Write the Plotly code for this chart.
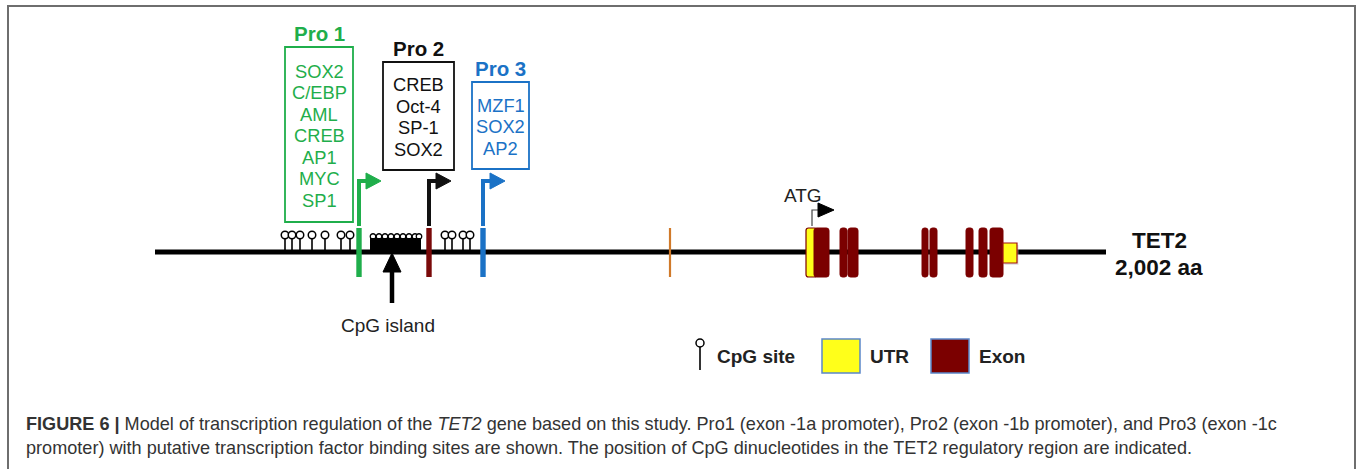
import plotly.graph_objects as go

# ---------------- data (diagram coordinates along the gene) ----------------
gene_start, gene_end = 155, 1106
line_y = 252

promoters = ["Pro 1", "Pro 2", "Pro 3"]
promoter_pos = [359, 429, 483]
promoter_colors = ["#1fae4b", "#111111", "#1b72c6"]
promoter_bar_colors = ["#1fae4b", "#7a0a0a", "#1b72c6"]
promoter_tfs = [
    ["SOX2", "C/EBP", "AML", "CREB", "AP1", "MYC", "SP1"],
    ["CREB", "Oct-4", "SP-1", "SOX2"],
    ["MZF1", "SOX2", "AP2"],
]
box_left = [285, 383, 472]
box_right = [353, 454, 529]
box_top = [47, 62, 82]
box_bottom = [222, 170, 169]

cpg_sites = [285, 292, 300, 312, 325, 341, 350, 445, 452, 463, 470]
island_start, island_end = 370, 421
island_sites = [373, 379, 385, 391, 397, 403, 409, 415, 419]
island_arrow_x = 392

exon_m1_pos = 670
utr5 = (806, 814)
exon_starts = [814, 840, 848, 922, 930, 966, 979, 990]
exon_ends = [829, 847, 858, 928, 937, 973, 987, 1003]
utr3 = (1003, 1017)
atg_pos = 812

EXON = "#7b0000"
UTR = "#ffff1a"
CAPTION_1 = ("<b>FIGURE 6 |</b> Model of transcription regulation of the <i>TET2</i> gene based on this study. "
             "Pro1 (exon -1a promoter), Pro2 (exon -1b promoter), and Pro3 (exon -1c")
CAPTION_2 = ("promoter) with putative transcription factor binding sites are shown. The position of CpG "
             "dinucleotides in the TET2 regulatory region are indicated.")

FONT = "Arial, Liberation Sans, sans-serif"

fig = go.Figure()
shapes = []
ann = []


def rrect(x0, x1, y0, y1, r, fill, line_color, lw=1):
    r = min(r, (x1 - x0) / 2, (y1 - y0) / 2)
    p = (f"M{x0+r},{y0} L{x1-r},{y0} Q{x1},{y0} {x1},{y0+r} L{x1},{y1-r} Q{x1},{y1} {x1-r},{y1} "
         f"L{x0+r},{y1} Q{x0},{y1} {x0},{y1-r} L{x0},{y0+r} Q{x0},{y0} {x0+r},{y0} Z")
    return dict(type="path", path=p, fillcolor=fill, line=dict(color=line_color, width=lw),
                xref="x", yref="y", layer="above")


# outer frame
shapes.append(dict(type="path", path="M8,470 L8,6 L1355,6 L1355,470",
                   line=dict(color="#6e6e6e", width=2), xref="x", yref="y"))

# main gene line
shapes.append(dict(type="line", x0=gene_start, x1=gene_end, y0=line_y, y1=line_y,
                   line=dict(color="black", width=5), xref="x", yref="y"))

# CpG island block
shapes.append(dict(type="rect", x0=island_start, x1=island_end, y0=238, y1=line_y,
                   fillcolor="black", line=dict(width=0), xref="x", yref="y"))

# promoters
for name, px, col, bcol, tfs, bl, br, bt, bb in zip(promoters, promoter_pos, promoter_colors,
                                                   promoter_bar_colors, promoter_tfs,
                                                   box_left, box_right, box_top, box_bottom):
    shapes.append(dict(type="rect", x0=px - 2.7, x1=px + 2.7, y0=228, y1=277,
                       fillcolor=bcol, line=dict(width=0), xref="x", yref="y", layer="above"))
    top = 181
    shapes.append(dict(type="path", path=f"M{px},226 L{px},{top} L{px+8},{top}",
                       line=dict(color=col, width=4), xref="x", yref="y", layer="above"))
    shapes.append(dict(type="path", path=f"M{px+7},{top-8} L{px+22},{top} L{px+7},{top+8} Z",
                       fillcolor=col, line=dict(color=col, width=1), xref="x", yref="y", layer="above"))
    shapes.append(dict(type="rect", x0=bl, x1=br, y0=bt, y1=bb,
                       line=dict(color=col, width=1.8), xref="x", yref="y"))
    cx = (bl + br) / 2
    ann.append(dict(x=cx, y=bt - 14, text=f"<b>{name}</b>", font=dict(size=20.5, color=col, family=FONT)))
    n = len(tfs)
    step = 21.5
    mid = (bt + bb) / 2
    for i, t in enumerate(tfs):
        ann.append(dict(x=cx, y=mid + (i - (n - 1) / 2) * step + 1, text=t,
                        font=dict(size=18.3, color=col, family=FONT)))

# exon -1 (orange)
shapes.append(dict(type="line", x0=exon_m1_pos, x1=exon_m1_pos, y0=228, y1=277,
                   line=dict(color="#d07a2a", width=2.2), xref="x", yref="y"))

# 5' UTR and exons
shapes.append(rrect(utr5[0], utr5[1] + 3, 228, 277, 2.5, UTR, EXON, 1.2))
for s, e in zip(exon_starts, exon_ends):
    shapes.append(rrect(s, e, 228, 277, 2.5, EXON, EXON, 1))
shapes.append(dict(type="rect", x0=utr3[0] + 1.5, x1=utr3[1] + 1.5, y0=245, y1=265,
                   fillcolor="#c9c9c9", line=dict(width=0), xref="x", yref="y", opacity=0.5))
shapes.append(dict(type="rect", x0=utr3[0], x1=utr3[1], y0=243, y1=263,
                   fillcolor=UTR, line=dict(color="#a01010", width=1.2), xref="x", yref="y", layer="above"))

# ATG small bent arrow
shapes.append(dict(type="path", path=f"M{atg_pos},226 L{atg_pos},210 L{atg_pos+7},210",
                   line=dict(color="#444444", width=1.2), xref="x", yref="y", layer="above"))
shapes.append(dict(type="path", path=f"M{atg_pos+6},203 L{atg_pos+22},210 L{atg_pos+6},217 Z",
                   fillcolor="black", line=dict(color="black", width=1), xref="x", yref="y", layer="above"))
ann.append(dict(x=803, y=195, text="ATG", font=dict(size=19, color="#222222", family=FONT)))

# CpG island arrow
shapes.append(dict(type="line", x0=island_arrow_x, x1=island_arrow_x, y0=303, y1=268,
                   line=dict(color="black", width=4.5), xref="x", yref="y"))
shapes.append(dict(type="path",
                   path=f"M{island_arrow_x-9},272 L{island_arrow_x},253 L{island_arrow_x+9},272 Z",
                   fillcolor="black", line=dict(color="black", width=1), xref="x", yref="y"))
ann.append(dict(x=388, y=325, text="CpG island", font=dict(size=19, color="#222222", family=FONT)))

# TET2 label
ann.append(dict(x=1159, y=240, text="<b>TET2</b>", font=dict(size=22.5, color="#111111", family=FONT)))
ann.append(dict(x=1159, y=267, text="<b>2,002 aa</b>", font=dict(size=22.5, color="#111111", family=FONT)))

# CpG sites (lollipops)
sx, sy = [], []
for c in cpg_sites:
    sx += [c, c, None]
    sy += [line_y, 238.5, None]
fig.add_trace(go.Scatter(x=sx, y=sy, mode="lines", line=dict(color="black", width=1.6),
                         hoverinfo="skip"))
fig.add_trace(go.Scatter(x=cpg_sites, y=[235] * len(cpg_sites), mode="markers",
                         marker=dict(symbol="circle", size=7.5, color="white",
                                     line=dict(color="black", width=1.5)), hoverinfo="skip"))
fig.add_trace(go.Scatter(x=island_sites, y=[236.5] * len(island_sites), mode="markers",
                         marker=dict(symbol="circle", size=5.5, color="white",
                                     line=dict(color="black", width=1.3)), hoverinfo="skip"))

# legend
fig.add_trace(go.Scatter(x=[700, 700], y=[346, 370], mode="lines", line=dict(color="black", width=1.6),
                         hoverinfo="skip"))
fig.add_trace(go.Scatter(x=[700], y=[343], mode="markers",
                         marker=dict(symbol="circle", size=8, color="white",
                                     line=dict(color="black", width=1.5)), hoverinfo="skip"))
ann.append(dict(x=715, y=356, text="<b>CpG site</b>", xanchor="left",
                font=dict(size=19, color="#222222", family=FONT)))
shapes.append(dict(type="rect", x0=822, x1=860, y0=339, y1=373, fillcolor=UTR,
                   line=dict(color="#5b86c9", width=1.5), xref="x", yref="y"))
ann.append(dict(x=868, y=356, text="<b>UTR</b>", xanchor="left",
                font=dict(size=19, color="#222222", family=FONT)))
shapes.append(dict(type="rect", x0=931, x1=969, y0=339, y1=373, fillcolor=EXON,
                   line=dict(color="#5b86c9", width=1.5), xref="x", yref="y"))
ann.append(dict(x=977, y=356, text="<b>Exon</b>", xanchor="left",
                font=dict(size=19, color="#222222", family=FONT)))

# caption
ann.append(dict(x=24, y=424, text=CAPTION_1, xanchor="left",
                font=dict(size=18.1, color="#333333", family=FONT)))
ann.append(dict(x=24, y=448, text=CAPTION_2, xanchor="left",
                font=dict(size=18.1, color="#333333", family=FONT)))

for a in ann:
    a.setdefault("xanchor", "center")
    a.update(xref="x", yref="y", showarrow=False, yanchor="middle")

fig.update_layout(
    width=1357, height=469,
    margin=dict(l=0, r=0, t=0, b=0),
    paper_bgcolor="white", plot_bgcolor="white",
    showlegend=False,
    xaxis=dict(range=[0, 1357], visible=False, fixedrange=True),
    yaxis=dict(range=[469, 0], visible=False, fixedrange=True),
    shapes=shapes,
    annotations=ann,
)

fig.write_html("out.html", config={"displayModeBar": False},
               post_script="document.body.style.margin='0';document.body.style.overflow='hidden';")
